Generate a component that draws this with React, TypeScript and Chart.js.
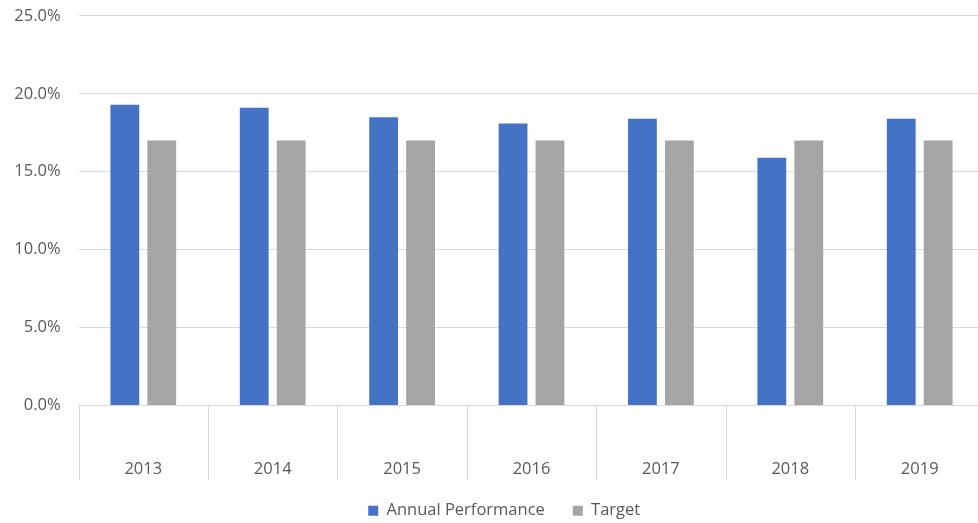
import React, { useEffect, useRef } from "react";
import { Chart, registerables } from "chart.js";

Chart.register(...registerables);

const categories = ["2013", "2014", "2015", "2016", "2017", "2018", "2019"];
const annualPerformance = [19.3, 19.1, 18.5, 18.1, 18.4, 15.9, 18.4];
const target = [17, 17, 17, 17, 17, 17, 17];
const seriesNames = ["Annual Performance", "Target"];

const FONT = "'Open Sans', 'Liberation Sans', sans-serif";
const TEXT = "#595959";
const GRID = "#d9d9d9";

const dividerPlugin = {
  id: "dividers",
  afterLayout(chart: any) {
    if (chart.legend) {
      chart.legend.left += 12;
      chart.legend.right += 12;
    }
  },
  afterDraw(chart: any) {
    const x = chart.scales.x;
    const area = chart.chartArea;
    const ctx = chart.ctx;
    const n = x.ticks.length;
    const half = (x.getPixelForTick(1) - x.getPixelForTick(0)) / 2;
    ctx.save();
    ctx.strokeStyle = GRID;
    ctx.lineWidth = 1;
    for (let i = 0; i <= n; i++) {
      const px = Math.round(x.getPixelForTick(Math.min(i, n - 1)) + (i === n ? half : -half)) + 0.5;
      ctx.beginPath();
      ctx.moveTo(px, area.bottom);
      ctx.lineTo(px, area.bottom + 75);
      ctx.stroke();
    }
    ctx.restore();
  },
};

export default function App() {
  const ref = useRef<HTMLCanvasElement | null>(null);
  useEffect(() => {
    if (!ref.current) return;
    const chart = new Chart(ref.current, {
      type: "bar",
      data: {
        labels: categories,
        datasets: [
          {
            label: seriesNames[0],
            data: annualPerformance,
            backgroundColor: "#4472C4",
            categoryPercentage: 0.571,
            barPercentage: 0.78,
          },
          {
            label: seriesNames[1],
            data: target,
            backgroundColor: "#A5A5A5",
            categoryPercentage: 0.571,
            barPercentage: 0.78,
          },
        ],
      },
      options: {
        animation: false,
        responsive: true,
        maintainAspectRatio: false,
        layout: { padding: { top: 0, right: 5.6, left: 0, bottom: -6 } },
        plugins: {
          tooltip: { enabled: false },
          legend: {
            position: "bottom",
            labels: {
              boxWidth: 10,
              boxHeight: 10,
              padding: 28,
              color: TEXT,
              font: { family: FONT, size: 16.5 },
            },
          },
        },
        scales: {
          x: {
            grid: { display: false },
            border: { display: true, color: GRID },
            ticks: {
              padding: 46,
              color: TEXT,
              font: { family: FONT, size: 16.5 },
            },
            afterFit: (scale: any) => {
              scale.height = 69;
            },
          },
          y: {
            min: 0,
            max: 25,
            ticks: {
              stepSize: 5,
              padding: 18,
              color: TEXT,
              font: { family: FONT, size: 16.5 },
              callback: (v: any) => Number(v).toFixed(1) + "%",
            },
            grid: { color: GRID, drawTicks: false },
            border: { display: false },
            afterFit: (scale: any) => {
              scale.width = 78.6;
            },
          },
        },
      },
      plugins: [dividerPlugin],
    });
    return () => chart.destroy();
  }, []);
  return (
    <div
      style={{
        position: "fixed",
        left: 0,
        top: 0,
        width: 978,
        height: 523,
        overflow: "hidden",
        background: "#fff",
      }}
    >
      <div style={{ position: "relative", width: 990, height: 535, marginTop: -12 }}>
        <canvas ref={ref} />
      </div>
    </div>
  );
}
